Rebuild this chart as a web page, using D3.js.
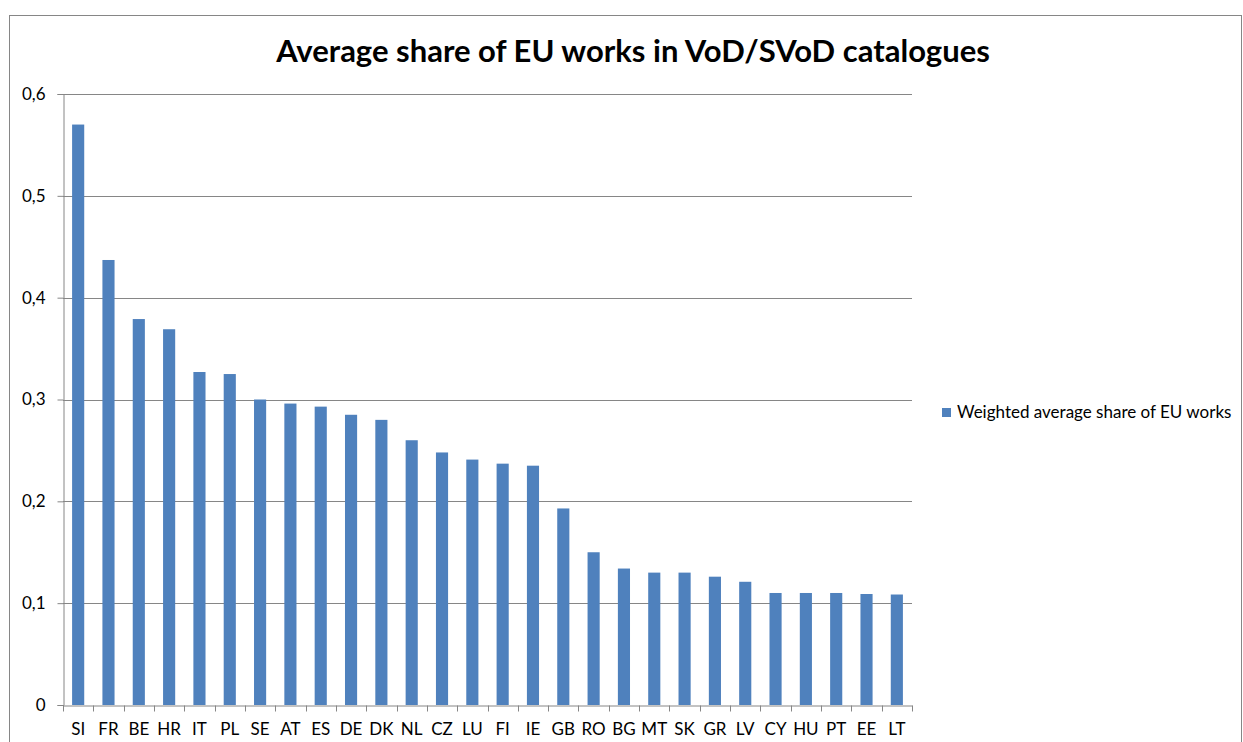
<!DOCTYPE html>
<html>
<head>
<meta charset="utf-8">
<script src="https://cdn.jsdelivr.net/npm/d3@7"></script>
<style>
  body { margin: 0; background: #fff; }
  text { font-family: Lato, "Open Sans", sans-serif; fill: #000; }
</style>
</head>
<body>
<div class="chart"></div>
<script>
var svgWidth = 1243;
var svgHeight = 742;

var countries = ["SI", "FR", "BE", "HR", "IT", "PL", "SE", "AT", "ES", "DE", "DK", "NL", "CZ", "LU",
  "FI", "IE", "GB", "RO", "BG", "MT", "SK", "GR", "LV", "CY", "HU", "PT", "EE", "LT"];
var shares = [0.570, 0.437, 0.379, 0.369, 0.327, 0.325, 0.300, 0.296, 0.293, 0.285, 0.280, 0.260, 0.248, 0.241,
  0.237, 0.235, 0.193, 0.150, 0.134, 0.130, 0.130, 0.126, 0.121, 0.110, 0.110, 0.110, 0.109, 0.1085];
var yTicks = [0, 0.1, 0.2, 0.3, 0.4, 0.5, 0.6];
var seriesName = "Weighted average share of EU works";
var title = "Average share of EU works in VoD/SVoD catalogues";

var margin = { top: 94, left: 63, right: 331, bottom: 37 };
var width = svgWidth - margin.left - margin.right;   // 849
var height = svgHeight - margin.top - margin.bottom; // 611

var svg = d3.select(".chart")
  .append("svg")
  .attr("width", svgWidth)
  .attr("height", svgHeight);

// outer chart border
svg.append("rect")
  .attr("x", 9.5).attr("y", 15.5)
  .attr("width", 1232).attr("height", 740)
  .attr("fill", "none")
  .attr("stroke", "#868686");

svg.append("text")
  .attr("x", 633).attr("y", 62)
  .attr("text-anchor", "middle")
  .style("font-size", "31px")
  .style("font-weight", "bold")
  .text(title);

var chartGroup = svg.append("g")
  .attr("transform", `translate(${margin.left}, ${margin.top})`);

var xBandScale = d3.scaleBand()
  .domain(countries)
  .range([0, width])
  .paddingInner(0.6)
  .paddingOuter(0.3);

var yLinearScale = d3.scaleLinear()
  .domain([0, 0.6])
  .range([height, 0]);

// gridlines
chartGroup.selectAll(".grid")
  .data(yTicks.filter(d => d > 0))
  .enter()
  .append("line")
  .attr("x1", 0).attr("x2", width)
  .attr("y1", d => Math.round(yLinearScale(d)) + 0.5)
  .attr("y2", d => Math.round(yLinearScale(d)) + 0.5)
  .attr("stroke", "#868686");

// bars
chartGroup.selectAll("rect.bar")
  .data(shares)
  .enter()
  .append("rect")
  .attr("class", "bar")
  .attr("x", (d, i) => xBandScale(countries[i]))
  .attr("y", d => yLinearScale(d))
  .attr("width", xBandScale.bandwidth())
  .attr("height", d => height - yLinearScale(d))
  .attr("fill", "#4f81bd");

// y axis
var leftAxis = d3.axisLeft(yLinearScale)
  .tickValues(yTicks)
  .tickSize(6)
  .tickPadding(12)
  .tickFormat(d => d === 0 ? "0" : d3.format(".1f")(d).replace(".", ","));

var yAxisG = chartGroup.append("g").attr("transform", "translate(0.5,0)").call(leftAxis);
yAxisG.selectAll("text").style("font-size", "17px").style("font-family", "Lato, sans-serif");

// x axis with ticks between categories
var step = xBandScale.step();
var bottomAxis = d3.axisBottom(xBandScale).tickSize(0).tickPadding(17);
var xAxisG = chartGroup.append("g")
  .attr("transform", `translate(0, ${Math.round(height) + 0.5})`)
  .call(bottomAxis);
xAxisG.selectAll("text").style("font-size", "17px").style("font-family", "Lato, sans-serif");

xAxisG.selectAll(".sep")
  .data(d3.range(countries.length + 1))
  .enter()
  .append("line")
  .attr("x1", i => Math.round(i * step) + 0.5)
  .attr("x2", i => Math.round(i * step) + 0.5)
  .attr("y1", 0).attr("y2", 6)
  .attr("stroke", "#868686");

svg.selectAll(".domain").attr("stroke", "#868686");
svg.selectAll(".tick line").attr("stroke", "#868686");

// legend
svg.append("rect")
  .attr("x", 942).attr("y", 408)
  .attr("width", 9).attr("height", 9)
  .attr("fill", "#4f81bd");

svg.append("text")
  .attr("x", 957).attr("y", 418)
  .style("font-size", "17px")
  .text(seriesName);
</script>
</body>
</html>
